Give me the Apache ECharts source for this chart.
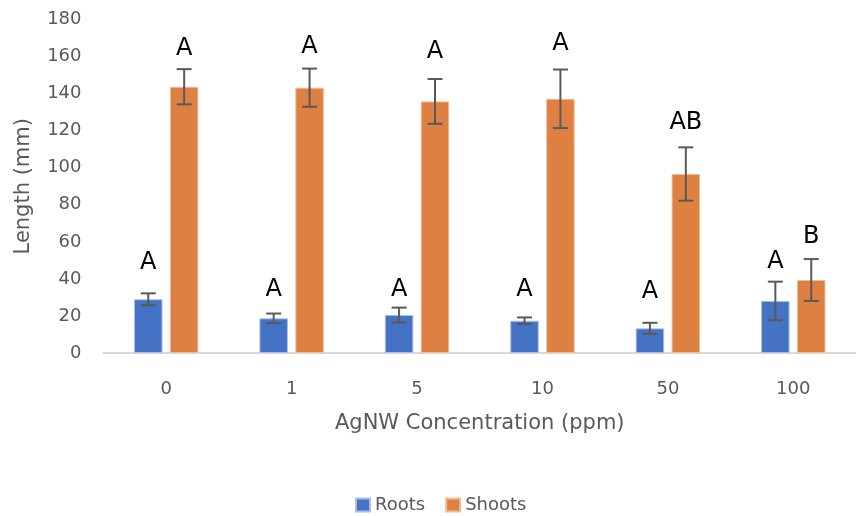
<!DOCTYPE html>
<html>
<head>
<meta charset="utf-8">
<script src="https://cdn.jsdelivr.net/npm/echarts@6/dist/echarts.min.js"></script>
<style>
  html, body { margin: 0; padding: 0; background: #fff; }
  #chart { width: 856px; height: 516px; }
</style>
</head>
<body>
<div id="chart"></div>
<script>
// AgNW concentrations (ppm)
const categories = ['0', '1', '5', '10', '50', '100'];

// Mean lengths (mm)
const rootsMean  = [29.0, 18.7, 20.5, 17.4, 13.3, 28.1];
const shootsMean = [143.7, 143.2, 135.8, 137.2, 96.6, 39.4];

// Error bar half-widths (mm)
const rootsErr  = [3.2, 2.6, 4.0, 1.8, 3.0, 10.4];
const shootsErr = [9.5, 10.3, 12.1, 15.8, 14.4, 11.3];

// Significance letters and the height they sit at (mm)
const rootsLetters  = ['A', 'A', 'A', 'A', 'A', 'A'];
const shootsLetters = ['A', 'A', 'A', 'A', 'AB', 'B'];
const rootsLetterY  = [48.6, 34.0, 34.0, 34.0, 33.1, 49.3];
const shootsLetterY = [164.4, 165.3, 162.6, 167.1, 124.0, 62.8];

const yTicks = { min: 0, max: 180, interval: 20 };

const BAR_W = 28.5;
const BAR_GAP = 7.4;
const OFFSET = (BAR_W + BAR_GAP) / 2;

const TEXT_GREY = '#595959';
const FONT = '"DejaVu Sans", "Open Sans", sans-serif';

function errorSeries(name, means, errs, sign) {
  return {
    type: 'custom',
    name: name + ' error',
    z: 5,
    silent: true,
    data: means.map((m, i) => [i, m - errs[i], m + errs[i]]),
    renderItem: function (params, api) {
      const lo = api.coord([api.value(0), api.value(1)]);
      const hi = api.coord([api.value(0), api.value(2)]);
      const x = lo[0] + sign * OFFSET;
      const cap = 7.5;
      const style = { stroke: '#595959', lineWidth: 2 };
      return {
        type: 'group',
        children: [
          { type: 'line', shape: { x1: x, y1: hi[1], x2: x, y2: lo[1] }, style: style },
          { type: 'line', shape: { x1: x - cap, y1: hi[1], x2: x + cap, y2: hi[1] }, style: style },
          { type: 'line', shape: { x1: x - cap, y1: lo[1], x2: x + cap, y2: lo[1] }, style: style }
        ]
      };
    }
  };
}

function letterSeries(name, ys, letters, sign) {
  return {
    type: 'custom',
    name: name + ' letters',
    z: 6,
    silent: true,
    data: ys.map((y, i) => [i, y]),
    renderItem: function (params, api) {
      const p = api.coord([api.value(0), api.value(1)]);
      return {
        type: 'text',
        x: p[0] + sign * OFFSET,
        y: p[1],
        style: {
          text: letters[params.dataIndex],
          fill: '#000',
          font: '24px ' + FONT,
          align: 'center',
          verticalAlign: 'middle'
        }
      };
    }
  };
}

const chart = echarts.init(document.getElementById('chart'), null, { renderer: 'canvas' });

chart.setOption({
  animation: false,
  backgroundColor: '#fff',
  grid: { left: 103.5, width: 764.4, top: 19.5, bottom: 163 },
  legend: {
    data: ['Roots', 'Shoots'],
    left: 350,
    top: 491,
    itemWidth: 14,
    itemHeight: 13,
    itemGap: 20,
    icon: 'rect',
    textStyle: { color: TEXT_GREY, fontSize: 18, fontFamily: FONT }
  },
  xAxis: {
    type: 'category',
    data: categories,
    name: 'AgNW Concentration (ppm)',
    nameLocation: 'middle',
    nameGap: 60,
    nameTextStyle: { color: TEXT_GREY, fontSize: 21, fontFamily: FONT },
    axisLine: { lineStyle: { color: '#d9d9d9', width: 2 } },
    axisTick: { show: false },
    axisLabel: { color: TEXT_GREY, fontSize: 18, fontFamily: FONT, margin: 27 }
  },
  yAxis: {
    type: 'value',
    min: yTicks.min,
    max: yTicks.max,
    interval: yTicks.interval,
    name: 'Length (mm)',
    nameLocation: 'middle',
    nameGap: 69,
    nameTextStyle: { color: TEXT_GREY, fontSize: 21, fontFamily: FONT },
    axisLine: { show: false },
    axisTick: { show: false },
    splitLine: { show: false },
    axisLabel: { color: TEXT_GREY, fontSize: 18, fontFamily: FONT, margin: 22 }
  },
  series: [
    {
      name: 'Roots',
      type: 'bar',
      data: rootsMean,
      barWidth: BAR_W,
      barGap: (BAR_GAP / BAR_W * 100).toFixed(1) + '%',
      itemStyle: { color: '#4472C4', borderColor: '#a9bde6', borderWidth: 1 }
    },
    {
      name: 'Shoots',
      type: 'bar',
      data: shootsMean,
      barWidth: BAR_W,
      itemStyle: { color: '#DF8043', borderColor: '#f0bd9a', borderWidth: 1 }
    },
    errorSeries('Roots', rootsMean, rootsErr, -1),
    errorSeries('Shoots', shootsMean, shootsErr, 1),
    letterSeries('Roots', rootsLetterY, rootsLetters, -1),
    letterSeries('Shoots', shootsLetterY, shootsLetters, 1)
  ]
});
</script>
</body>
</html>
